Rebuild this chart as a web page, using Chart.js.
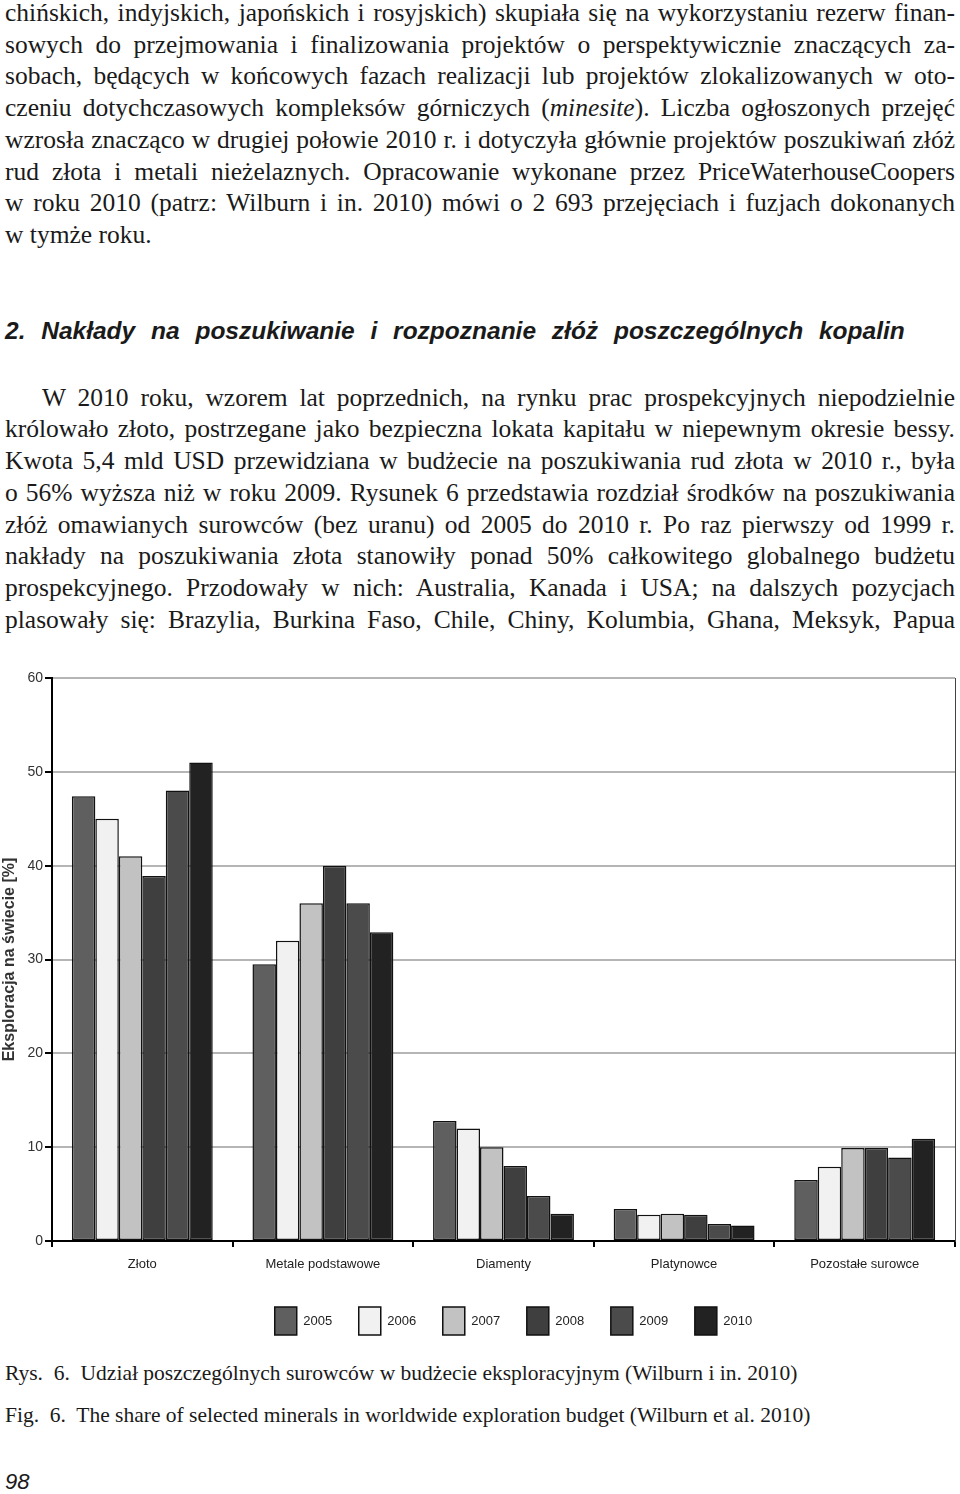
<!DOCTYPE html>
<html lang="pl">
<head>
<meta charset="utf-8">
<script src="https://cdn.jsdelivr.net/npm/chart.js@4.4.1/dist/chart.umd.min.js"></script>
<style>
  html, body { margin: 0; padding: 0; background: #fff; }
  body { width: 960px; height: 1494px; position: relative; overflow: hidden; color: #1a1a1a; }
  .txt { position: absolute; left: 5px; width: 950px; font-family: "Liberation Serif", "Times New Roman", serif;
         font-size: 25.5px; line-height: 31.7px; }
  .txt div { text-align: justify; text-align-last: justify; }
  .txt div.last { text-align: left; text-align-last: left; }
  .txt div.ind { text-indent: 37px; }
  h2 { position: absolute; left: 5px; top: 316px; margin: 0; font-family: "Liberation Sans", Arial, sans-serif;
       font-weight: bold; font-style: italic; font-size: 24.5px; line-height: 30px; word-spacing: 9px; white-space: nowrap; }
  .cap { position: absolute; left: 5px; font-family: "Liberation Serif", "Times New Roman", serif;
         font-size: 21.5px; line-height: 20px; white-space: nowrap; }
  .page { position: absolute; left: 5px; top: 1471px; font-family: "Liberation Sans", Arial, sans-serif;
          font-style: italic; font-size: 22px; line-height: 22px; }
  #wrap { position: absolute; left: 0; top: 662px; width: 960px; height: 684px; }
</style>
</head>
<body>

<div class="txt" style="top:-3px">
  <div>chińskich, indyjskich, japońskich i rosyjskich) skupiała się na wykorzystaniu rezerw finan-</div>
  <div>sowych do przejmowania i finalizowania projektów o perspektywicznie znaczących za-</div>
  <div>sobach, będących w końcowych fazach realizacji lub projektów zlokalizowanych w oto-</div>
  <div>czeniu dotychczasowych kompleksów górniczych (<i>minesite</i>). Liczba ogłoszonych przejęć</div>
  <div>wzrosła znacząco w drugiej połowie 2010 r. i dotyczyła głównie projektów poszukiwań złóż</div>
  <div>rud złota i metali nieżelaznych. Opracowanie wykonane przez PriceWaterhouseCoopers</div>
  <div>w roku 2010 (patrz: Wilburn i in. 2010) mówi o 2 693 przejęciach i fuzjach dokonanych</div>
  <div class="last">w tymże roku.</div>
</div>

<h2>2. Nakłady na poszukiwanie i rozpoznanie złóż poszczególnych kopalin</h2>

<div class="txt" style="top:381.7px">
  <div class="ind">W 2010 roku, wzorem lat poprzednich, na rynku prac prospekcyjnych niepodzielnie</div>
  <div>królowało złoto, postrzegane jako bezpieczna lokata kapitału w niepewnym okresie bessy.</div>
  <div>Kwota 5,4 mld USD przewidziana w budżecie na poszukiwania rud złota w 2010 r., była</div>
  <div>o 56% wyższa niż w roku 2009. Rysunek 6 przedstawia rozdział środków na poszukiwania</div>
  <div>złóż omawianych surowców (bez uranu) od 2005 do 2010 r. Po raz pierwszy od 1999 r.</div>
  <div>nakłady na poszukiwania złota stanowiły ponad 50% całkowitego globalnego budżetu</div>
  <div>prospekcyjnego. Przodowały w nich: Australia, Kanada i USA; na dalszych pozycjach</div>
  <div>plasowały się: Brazylia, Burkina Faso, Chile, Chiny, Kolumbia, Ghana, Meksyk, Papua</div>
</div>

<div id="wrap"><canvas id="udzialChart"></canvas></div>

<div class="cap" style="top:1363px">Rys.&nbsp; 6.&nbsp; Udział poszczególnych surowców w budżecie eksploracyjnym (Wilburn i in. 2010)</div>
<div class="cap" style="top:1405px">Fig.&nbsp; 6.&nbsp; The share of selected minerals in worldwide exploration budget (Wilburn et al. 2010)</div>
<div class="page">98</div>

<script>
// kategorie i lata
const surowce = ["Złoto", "Metale podstawowe", "Diamenty", "Platynowce", "Pozostałe surowce"];
const lata = ["2005", "2006", "2007", "2008", "2009", "2010"];

// udział w budżecie [%], kolejność jak w surowce
const v2005 = [47.4, 29.5, 12.8, 3.4, 6.5];
const v2006 = [45.0, 32.0, 12.0, 2.8, 7.9];
const v2007 = [41.0, 36.0, 10.0, 2.9, 9.9];
const v2008 = [38.9, 40.0, 8.0, 2.8, 9.9];
const v2009 = [48.0, 36.0, 4.8, 1.8, 8.9];
const v2010 = [51.0, 32.9, 2.9, 1.65, 10.9];

const yTicks = [0, 10, 20, 30, 40, 50, 60];

const kolory = ["#5f5f5f", "#f1f1f1", "#c2c2c2", "#3f3f3f", "#4b4b4b", "#222222"];
const wartosci = [v2005, v2006, v2007, v2008, v2009, v2010];

const fontSans = "'Liberation Sans', Arial, sans-serif";

// legenda w oryginale jest lekko przesunieta w prawo
const przesunLegende = {
  id: "przesunLegende",
  afterLayout(chart) {
    chart.legend.left += 10;
    chart.legend.right += 10;
  }
};

function renderUdzial() {
  const ctx = document.getElementById("udzialChart");

  new Chart(ctx, {
    type: "bar",
    data: {
      labels: surowce,
      datasets: lata.map((rok, i) => ({
        label: rok,
        data: wartosci[i],
        backgroundColor: kolory[i],
        borderColor: "#111",
        borderWidth: 1.5,
        borderSkipped: false,
        categoryPercentage: 0.78,
        barPercentage: 1.0
      }))
    },
    plugins: [przesunLegende],
    options: {
      responsive: true,
      maintainAspectRatio: false,
      animation: false,
      layout: { padding: { top: 16, right: 5, left: 0, bottom: 1 } },
      plugins: {
        tooltip: { enabled: false },
        legend: {
          position: "bottom",
          fullSize: false,
          labels: {
            boxWidth: 22,
            boxHeight: 28,
            padding: 26.6,
            color: "#222",
            font: { family: fontSans, size: 13 }
          }
        }
      },
      scales: {
        x: {
          grid: { drawOnChartArea: false, drawTicks: true, tickLength: 6, tickColor: "#000", lineWidth: 2 },
          border: { color: "#000", width: 2 },
          ticks: { color: "#222", padding: 10, font: { family: fontSans, size: 13 } },
          afterFit: s => { s.height = 39.4; }
        },
        y: {
          min: 0,
          max: 60,
          afterBuildTicks: s => { s.ticks = yTicks.map(v => ({ value: v })); },
          grid: { color: "#b5b5b5", lineWidth: 2, tickLength: 7, tickColor: "#000" },
          border: { color: "#000", width: 2 },
          ticks: { color: "#333", padding: 2, font: { family: fontSans, size: 14 } },
          title: {
            display: true,
            text: "Eksploracja na świecie [%]",
            color: "#333",
            padding: { top: 0, bottom: 0 },
            font: { family: fontSans, size: 16, weight: "bold" }
          },
          afterFit: s => { s.width = 52; }
        },
        y2: {
          position: "right",
          min: 0,
          max: 60,
          grid: { drawOnChartArea: false, drawTicks: false },
          border: { color: "#444", width: 1 },
          ticks: { display: false }
        }
      }
    }
  });
}

renderUdzial();
</script>
</body>
</html>
